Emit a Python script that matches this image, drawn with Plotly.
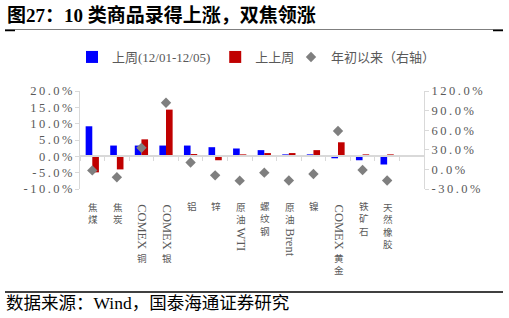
import plotly.graph_objects as go

# ---------------- data ----------------
categories = ["焦煤", "焦炭", "COMEX铜", "COMEX银", "铝", "锌", "原油WTI",
              "螺纹钢", "原油Brent", "镍", "COMEX黄金", "铁矿石", "天然橡胶"]
last_week = [9.2, 3.3, 3.3, 3.3, 3.3, 2.8, 2.4, 1.9, 0.6, 0.6, -0.6, -1.2, -2.5]
prev_week = [-4.9, -4.0, 5.2, 14.3, 0.7, -1.2, 0.6, 1.0, 1.0, 1.9, 4.3, 0.6, 0.6]
ytd = [-1.5, -12.0, 33.0, 102.0, 10.6, -9.1, -17.2, -5.0, -17.0, -7.0, 58.8, -1.0, -17.0]
left_ticks = [-10, -5, 0, 5, 10, 15, 20]
right_ticks = [-30, 0, 30, 60, 90, 120]
series_names = ["上周(12/01-12/05)", "上上周", "年初以来（右轴）"]
title_text = "图27：10 类商品录得上涨，双焦领涨"
source_text = "数据来源：Wind，国泰海通证券研究"

# ---------------- layout constants ----------------
W, H = 509, 318
PL, PR, PT, PB = 80, 424, 91, 189
LATIN = "Liberation Serif"
CJK = "Noto Sans CJK SC"
GRAY = "#595959"
AXIS = "#D9D9D9"
THIN = "\u2009"


def px(x):
    return (x - PL) / (PR - PL)


def py(y):
    return (PB - y) / (PB - PT)


def spaced(s):
    return THIN.join(s)


fig = go.Figure()
fig.add_trace(go.Bar(x=categories, y=last_week, name=series_names[0],
                     marker=dict(color="#0000FF", line=dict(width=0))))
fig.add_trace(go.Bar(x=categories, y=prev_week, name=series_names[1],
                     marker=dict(color="#C00000", line=dict(width=0))))
fig.add_trace(go.Scatter(x=categories, y=ytd, name=series_names[2], yaxis="y2",
                         mode="markers", legend="legend2",
                         marker=dict(symbol="diamond", size=8, color="#7F7F7F")))

tickfont = dict(family=LATIN, size=12.5, color=GRAY)
legfont = dict(family=LATIN + ", " + CJK, size=13, color=GRAY)
fig.update_layout(
    width=W, height=H,
    margin=dict(l=PL, r=W - PR, t=PT, b=H - PB, pad=0),
    paper_bgcolor="white", plot_bgcolor="white",
    barmode="group", bargap=0.46, bargroupgap=0,
    showlegend=True,
    legend=dict(orientation="h", x=px(72), y=py(42), xanchor="left", yanchor="top",
                font=legfont, itemwidth=30, bgcolor="rgba(0,0,0,0)"),
    legend2=dict(orientation="h", x=px(291), y=py(42), xanchor="left", yanchor="top",
                 font=legfont, itemwidth=30, bgcolor="rgba(0,0,0,0)"),
    xaxis=dict(type="category", range=[-0.5, len(categories) + 0.5],
               anchor="free", position=(0 - left_ticks[0]) / (left_ticks[-1] - left_ticks[0]),
               showline=True, linecolor=AXIS, linewidth=1.5,
               ticks="outside", tickson="boundaries", ticklen=4, tickcolor=AXIS,
               showticklabels=False, showgrid=False, zeroline=False),
    yaxis=dict(range=[left_ticks[0], left_ticks[-1]], tickvals=left_ticks,
               ticktext=[spaced(f"{v:.1f}%") for v in left_ticks],
               showline=True, linecolor=AXIS, linewidth=1,
               ticks="outside", ticklen=4, tickcolor=AXIS,
               showgrid=False, zeroline=False, tickfont=tickfont),
    yaxis2=dict(range=[right_ticks[0], right_ticks[-1]], tickvals=right_ticks,
                ticktext=[spaced(f"{v:.1f}%") for v in right_ticks],
                overlaying="y", side="right",
                showline=True, linecolor=AXIS, linewidth=1,
                ticks="outside", ticklen=4, tickcolor=AXIS,
                showgrid=False, zeroline=False, tickfont=tickfont),
)

annotations = []
shapes = []

# title
annotations.append(dict(text="<b>" + title_text + "</b>", xref="paper", yref="paper",
                        x=px(5), y=py(15), xanchor="left", yanchor="middle", showarrow=False,
                        font=dict(family=LATIN + ", " + CJK, size=19, color="black")))
# title rule
shapes.append(dict(type="line", xref="paper", yref="paper", x0=px(5), x1=px(503),
                   y0=py(29.5), y1=py(29.5), line=dict(color="#7F7F7F", width=1)))
for a, b in [(5, 15), (493, 503)]:
    shapes.append(dict(type="line", xref="paper", yref="paper", x0=px(a), x1=px(b),
                       y0=py(30.5), y1=py(30.5), line=dict(color="#000000", width=1.5)))
# bottom rule and source
shapes.append(dict(type="line", xref="paper", yref="paper", x0=px(5), x1=px(503),
                   y0=py(292), y1=py(292), line=dict(color="#404040", width=2)))
annotations.append(dict(text=source_text, xref="paper", yref="paper",
                        x=px(4), y=py(303), xanchor="left", yanchor="middle", showarrow=False,
                        font=dict(family=LATIN + ", " + CJK, size=17.5, color="black")))

# vertical category labels (CJK upright, Latin rotated)
TW = {"C": .667, "O": .722, "M": .889, "E": .611, "X": .722, "W": .944, "T": .611,
      "I": .333, "B": .667, "r": .333, "e": .444, "n": .5, "t": .278}
FS_C = 9.6
FS_L = 12.5
PITCH = 1.3 * FS_C
GLYPH = 0.92 * FS_C
START = 202.0


def split_runs(s):
    runs = []
    for ch in s:
        kind = "L" if ord(ch) < 128 else "C"
        if runs and runs[-1][0] == kind:
            runs[-1][1] += ch
        else:
            runs.append([kind, ch])
    return runs


for i, lab in enumerate(categories):
    cur = START  # top of next glyph
    for kind, txt in split_runs(lab):
        if kind == "C":
            n = len(txt)
            span = (n - 1) * PITCH + GLYPH
            center = cur + span / 2
            annotations.append(dict(text="<br>".join(txt), xref="x", yref="paper", x=lab, y=0,
                                    yshift=-(center - PB), xanchor="center", yanchor="middle",
                                    showarrow=False, borderpad=0, xshift=1,
                                    font=dict(family=CJK, size=FS_C, color=GRAY)))
            cur += span + 3
        else:
            L = sum(TW.get(c, .6) for c in txt) * FS_L + 0.8 * len(txt)
            center = cur + L / 2
            annotations.append(dict(text=txt, xref="x", yref="paper", x=lab, y=0,
                                    yshift=-(center - PB), xanchor="center", yanchor="middle",
                                    textangle=90, showarrow=False, borderpad=0, xshift=1,
                                    font=dict(family=LATIN, size=FS_L, color=GRAY)))
            cur += L + 2

fig.update_layout(annotations=annotations, shapes=shapes)
fig.write_html("out.html")
